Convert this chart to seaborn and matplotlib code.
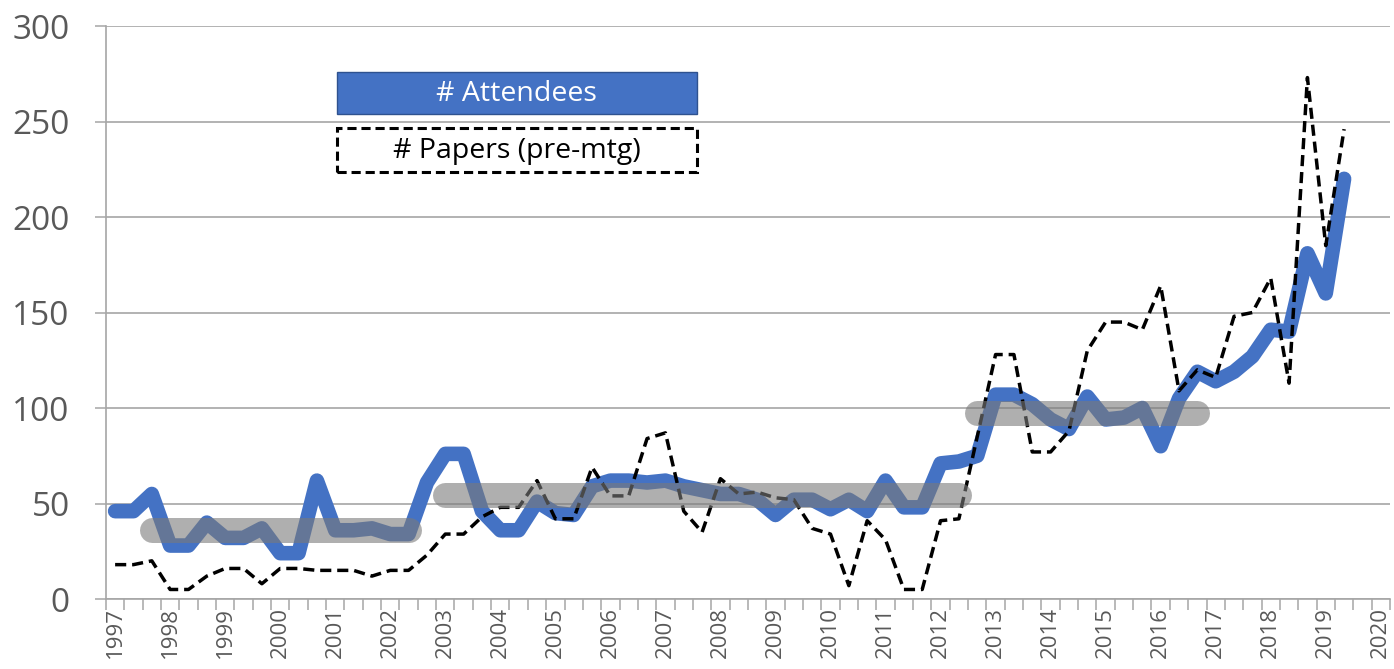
import matplotlib
matplotlib.use("Agg")
import matplotlib.pyplot as plt
import numpy as np
import pandas as pd
import seaborn as sns
from matplotlib.patches import Rectangle

# three meeting slots per year, 1997 .. 2020 (first slot)
years = list(range(1997, 2021))
slots_per_year = 3
n_slots = 70

attendees = [46, 46, 55, 28, 28, 40, 32, 32, 37, 24, 24, 62,
             36, 36, 37, 34, 34, 61, 76, 76, 46, 36, 36, 51,
             45, 44, 59, 62, 62, 61, 62, 59, 57, 55, 55, 52,
             44, 52, 52, 47, 52, 46, 62, 48, 48, 71, 72, 75,
             107, 107, 102, 94, 89, 106, 94, 95, 100, 80, 105, 119,
             114, 119, 127, 141, 140, 181, 160, 220]

papers = [18, 18, 20, 5, 5, 12, 16, 16, 8, 16, 16, 15,
          15, 15, 12, 15, 15, 23, 34, 34, 43, 48, 48, 62,
          42, 42, 69, 54, 54, 84, 87, 46, 35, 63, 55, 56,
          53, 52, 37, 34, 7, 41, 31, 5, 5, 41, 42, 85,
          128, 128, 77, 77, 88, 130, 145, 145, 141, 164, 109, 120,
          116, 148, 150, 168, 113, 273, 185, 246]

# period averages of attendees (first slot, last slot, mean)
avg_start = [2, 18, 47]
avg_end = [16, 46, 59]
avg_value = [36, 54.5, 97.5]

legend_labels = ["# Attendees", "# Papers (pre-mtg)"]

sns.set_theme(style="white")
plt.rcParams['font.family'] = ['Open Sans', 'DejaVu Sans']

df = pd.DataFrame({'slot': np.arange(len(attendees)),
                   'Attendees': attendees,
                   'Papers': papers})

fig = plt.figure(figsize=(13.94, 6.69), dpi=100)
ax = fig.add_axes([0.076, 0.1046, 0.9211, 0.8565])

blue = '#4472C4'
grey_line = '#a6a6a6'
label_col = '#595959'

sns.lineplot(data=df, x='slot', y='Attendees', ax=ax, color=blue,
             linewidth=10.5, solid_joinstyle='round', solid_capstyle='round',
             zorder=2, legend=False)
sns.lineplot(data=df, x='slot', y='Papers', ax=ax, color='black',
             linewidth=2.5, linestyle=(0, (3.2, 1.7)), zorder=3, legend=False)

for s, e, v in zip(avg_start, avg_end, avg_value):
    ax.plot([s, e], [v, v], color='#7a7a7a', alpha=0.6, linewidth=18,
            solid_capstyle='round', zorder=4)

# axes
ax.set_xlim(-0.5, n_slots - 0.5)
ax.set_ylim(0, 300)
ax.set_xlabel('')
ax.set_ylabel('')

ax.set_xticks([slots_per_year * k for k in range(len(years))])
ax.set_xticklabels([str(y) for y in years], rotation=90)
ax.set_xticks(np.arange(-0.5, n_slots, 1), minor=True)
ax.tick_params(axis='x', which='major', length=0, labelsize=16,
               labelcolor=label_col, pad=6)
ax.tick_params(axis='x', which='minor', length=8, width=1.1,
               color=grey_line, bottom=True)

ax.set_yticks(range(0, 301, 50))
ax.tick_params(axis='y', length=8, width=1.1, color=grey_line, labelsize=24,
               labelcolor=label_col, pad=18, left=True)

ax.yaxis.grid(True, color=grey_line, linewidth=1.2)
ax.xaxis.grid(False)
ax.set_axisbelow(True)

for side in ['top', 'right']:
    ax.spines[side].set_visible(False)
for side in ['left', 'bottom']:
    ax.spines[side].set_color(grey_line)
    ax.spines[side].set_linewidth(1.2)

# legend boxes
ax.add_patch(Rectangle((0.180, 0.846), 0.280, 0.074, transform=ax.transAxes,
                       facecolor=blue, edgecolor='#2F528F', linewidth=1,
                       zorder=5, clip_on=False))
ax.text(0.320, 0.881, legend_labels[0], transform=ax.transAxes,
        ha='center', va='center', color='white', fontsize=20.5, zorder=6)
ax.add_patch(Rectangle((0.180, 0.745), 0.280, 0.077, transform=ax.transAxes,
                       facecolor='white', edgecolor='black', linewidth=2.2,
                       linestyle=(0, (3, 1.6)), zorder=5, clip_on=False))
ax.text(0.320, 0.7815, legend_labels[1], transform=ax.transAxes,
        ha='center', va='center', color='black', fontsize=20.5, zorder=6)

fig.savefig('out.png', dpi=100)
